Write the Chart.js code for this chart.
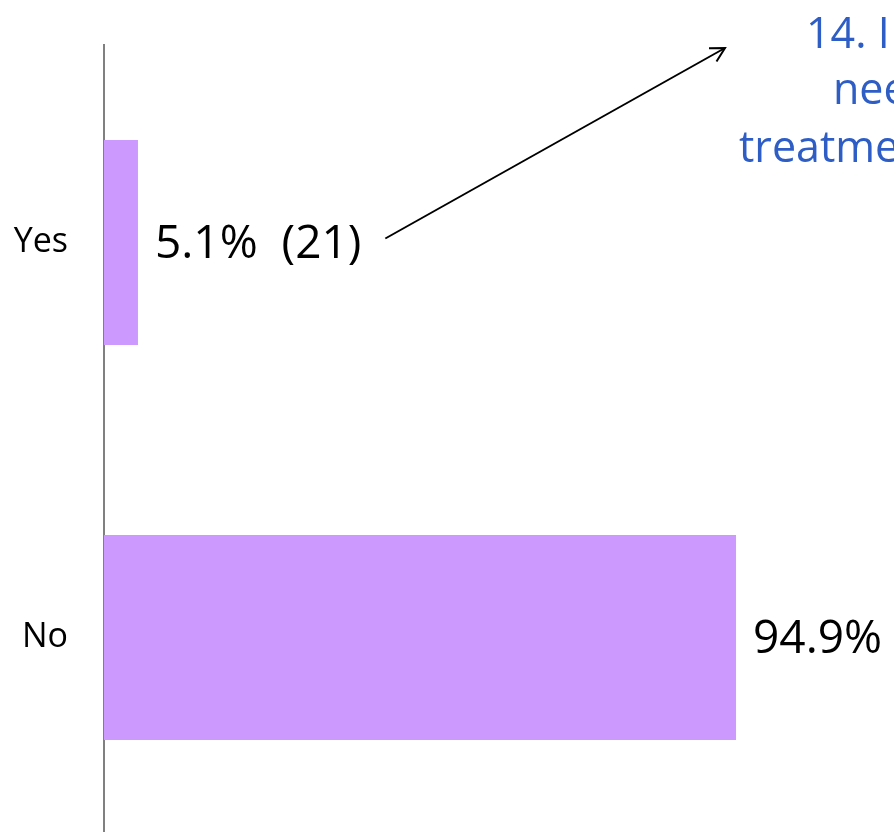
<!DOCTYPE html>
<html>
<head>
<meta charset="utf-8">
<script src="https://cdn.jsdelivr.net/npm/chart.js@4.4.1/dist/chart.umd.min.js"></script>
<style>
  html, body { margin: 0; padding: 0; background: #fff; overflow: hidden; }
  #wrap { position: relative; width: 894px; height: 850px; }
</style>
</head>
<body>
<div id="wrap"><canvas id="myChart"></canvas></div>
<script>
const categories = ['Yes', 'No'];
const percents = [5.1, 94.9];
const valueLabels = ['5.1%  (21)', '94.9%'];
const titleLines = ['14. I', 'nee', 'treatme'];

const FONT = '"Open Sans", "Noto Sans", sans-serif';

// labels next to the bars
const barLabels = {
    id: 'barLabels',
    afterDatasetsDraw(chart) {
        const c = chart.ctx;
        const meta = chart.getDatasetMeta(0);
        c.save();
        c.font = '46px ' + FONT;
        c.fillStyle = '#000';
        c.textBaseline = 'middle';
        meta.data.forEach((bar, i) => {
            c.fillText(valueLabels[i], bar.x + 17, bar.y + 2);
        });
        c.restore();
    }
};

// cut-off title on the right and the arrow pointing to it
const note = {
    id: 'note',
    afterDraw(chart) {
        const c = chart.ctx;
        const bar = chart.getDatasetMeta(0).data[0];
        c.save();
        c.font = '46px ' + FONT;
        const sx = bar.x + 17 + c.measureText(valueLabels[0]).width + 24;
        const sy = bar.y - 4;
        const ex = 725, ey = 48;
        c.strokeStyle = '#000';
        c.lineWidth = 2;
        c.beginPath();
        c.moveTo(sx, sy);
        c.lineTo(ex, ey);
        c.stroke();
        const ang = Math.atan2(ey - sy, ex - sx);
        c.beginPath();
        c.moveTo(ex - 16 * Math.cos(ang - 0.5), ey - 16 * Math.sin(ang - 0.5));
        c.lineTo(ex, ey);
        c.lineTo(ex - 16 * Math.cos(ang + 0.5), ey - 16 * Math.sin(ang + 0.5));
        c.stroke();

        c.fillStyle = '#2e5ec5';
        c.font = '43px ' + FONT;
        c.textBaseline = 'alphabetic';
        c.fillText(titleLines[0], 806, 48);
        c.fillText(titleLines[1], 833, 104);
        c.fillText(titleLines[2], 739, 162);
        c.restore();
    }
};

new Chart(document.getElementById('myChart'), {
    type: 'bar',
    data: {
        labels: categories,
        datasets: [{
            data: percents,
            backgroundColor: '#cc99ff',
            borderWidth: 0,
            barPercentage: 0.519,
            categoryPercentage: 1
        }]
    },
    options: {
        indexAxis: 'y',
        responsive: true,
        maintainAspectRatio: false,
        animation: false,
        layout: { padding: { top: 45, right: 124, bottom: 15, left: 0 } },
        plugins: {
            legend: { display: false },
            tooltip: { enabled: false }
        },
        scales: {
            x: { display: false, min: 0, max: 100 },
            y: {
                grid: { display: false, drawTicks: false },
                border: { display: true, color: '#808080', width: 2 },
                ticks: {
                    color: '#000',
                    padding: 36,
                    font: { family: FONT, size: 34 }
                },
                afterFit(scale) {
                    scale.width = 104;
                    scale.paddingTop = 0;
                    scale.paddingBottom = 0;
                }
            }
        }
    },
    plugins: [barLabels, note]
});
</script>
</body>
</html>
